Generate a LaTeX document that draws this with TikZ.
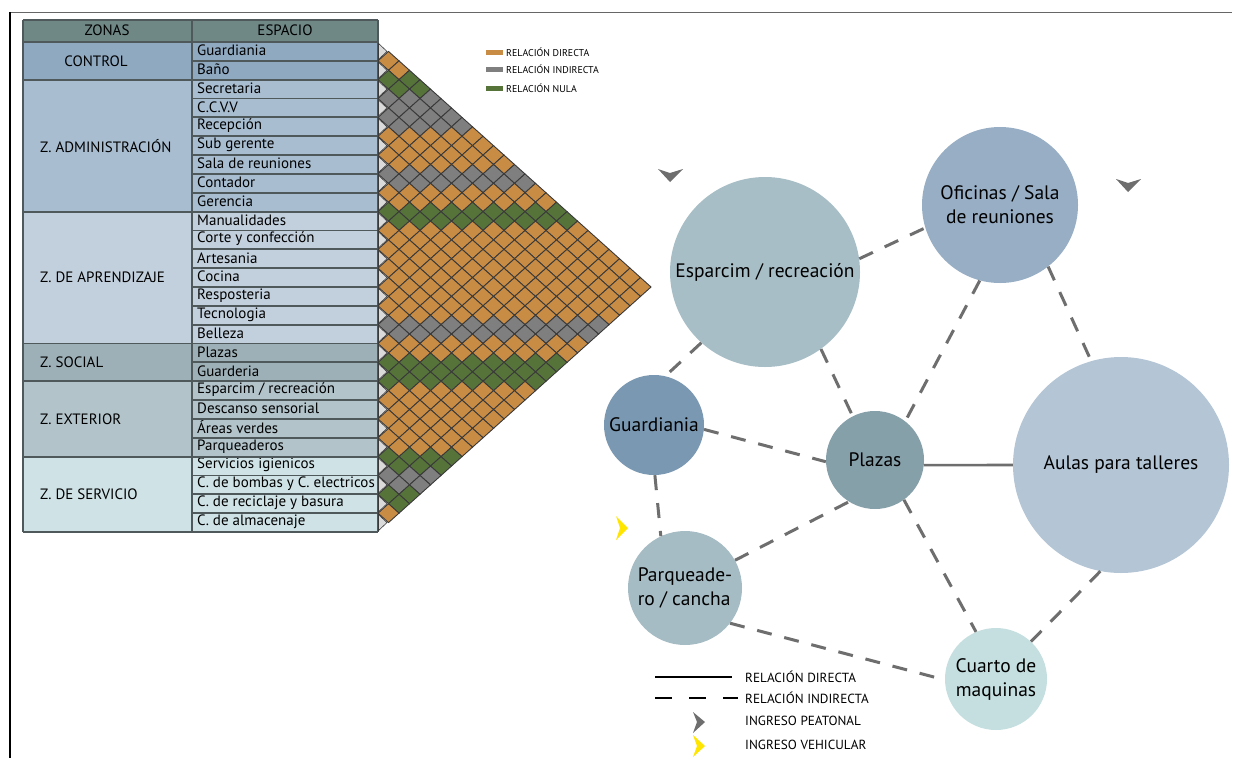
\documentclass[tikz,border=0pt]{standalone}
\usepackage{fontspec}
\setmainfont{PT Sans}
\definecolor{hdr}{HTML}{6F8785}
\definecolor{zctrl}{HTML}{8FA9C1}
\definecolor{zadm}{HTML}{A8BDD0}
\definecolor{zapr}{HTML}{C2CFDC}
\definecolor{zsoc}{HTML}{9EB0B7}
\definecolor{zext}{HTML}{B2C3CA}
\definecolor{zser}{HTML}{CFE2E6}
\definecolor{mO}{HTML}{C98C45}
\definecolor{mY}{HTML}{7F7F7F}
\definecolor{mG}{HTML}{56733A}
\definecolor{tri}{HTML}{DADADA}
\definecolor{cellline}{HTML}{3A3A3A}
\definecolor{tline}{HTML}{4F585B}
\definecolor{conn}{HTML}{6E6E6E}
\definecolor{cEsp}{HTML}{A8BEC6}
\definecolor{cOfi}{HTML}{97AEC5}
\definecolor{cAul}{HTML}{B4C5D6}
\definecolor{cPla}{HTML}{86A0AA}
\definecolor{cGua}{HTML}{7A98B2}
\definecolor{cPar}{HTML}{A6BCC4}
\definecolor{cCua}{HTML}{C5DFE0}
\definecolor{ylw}{HTML}{FFE500}
\newcommand\kO{\colorlet{cellc}{mO}}
\newcommand\kG{\colorlet{cellc}{mG}}
\newcommand\kY{\colorlet{cellc}{mY}}
\newcommand\cellcol[1]{\ifcase#1\relax
\kO\or\kO\or\kO\or\kG\or\kG\or\kY\or\kY\or\kY\or\kY\or\kO\or% 0-9
\kO\or\kO\or\kO\or\kY\or\kY\or\kO\or\kO\or\kG\or\kG\or\kO\or% 10-19
\kO\or\kO\or\kO\or\kO\or\kO\or\kO\or\kO\or\kO\or\kO\or\kY\or% 20-29
\kY\or\kO\or\kO\or\kG\or\kG\or\kG\or\kO\or\kO\or\kO\or\kO\or% 30-39
\kO\or\kO\or\kO\or\kG\or\kG\or\kY\or\kY\or\kG\or\kG\or\kO\else\kO\fi}
\tikzset{
  tabtxt/.style={anchor=west, inner sep=0pt, font=\fontsize{15}{17}\selectfont},
  tabline/.style={draw=tline, line width=1.8pt},
  cellbox/.style={fill=cellc, draw=cellline, line width=0.9pt},
  tribox/.style={fill=tri, draw=cellline, line width=0.6pt},
  bub/.style={circle, inner sep=0pt, align=center, font=\fontsize{19.5}{24}\selectfont},
  rel/.style={draw=conn, line width=3pt, dash pattern=on 15pt off 13pt},
  relsolid/.style={draw=conn, line width=2.6pt},
  legtxt/.style={anchor=west, inner sep=0pt, font=\fontsize{13.2}{15}\selectfont},
  legsmall/.style={anchor=west, inner sep=0pt, font=\fontsize{9.9}{11}\selectfont},
}
\begin{document}
\begin{tikzpicture}[x=1pt,y=-1pt]
\useasboundingbox (0,0) rectangle (1236,758);
\fill[white] (0,0) rectangle (1236,758);
% frame
\draw[draw=black!60, line width=1pt] (10,12) -- (1232,12);
\draw[black, line width=2pt] (10,12) -- (10,758);
% ---------- table ----------
\def\rh{18.846}
\fill[hdr] (23,20) rectangle (378,41);
\node[inner sep=0pt, font=\fontsize{15}{17}\selectfont] (hz) at (107,30.5) {ZONAS};
\node[inner sep=0pt, font=\fontsize{15}{17}\selectfont] (he) at (285,30.5) {ESPACIO};
\foreach \a/\b/\c in {0/2/zctrl,2/9/zadm,9/16/zapr,16/18/zsoc,18/22/zext,22/26/zser}{
  \fill[\c] (23,42+\a*\rh) rectangle (378,42+\b*\rh);
}
\node[tabtxt, anchor=center] (z1) at (96,{42+1*\rh}) {CONTROL};
\node[tabtxt] (z2) at (40,{42+5.5*\rh}) {Z. ADMINISTRACIÓN};
\node[tabtxt] (z3) at (40,{42+12.5*\rh}) {Z. DE APRENDIZAJE};
\node[tabtxt] (z4) at (40,{42+17*\rh}) {Z. SOCIAL};
\node[tabtxt] (z5) at (40,{42+20*\rh}) {Z. EXTERIOR};
\node[tabtxt] (z6) at (40,{42+24*\rh}) {Z. DE SERVICIO};
\foreach \t [count=\i from 0] in {Guardiania, Baño, Secretaria, C.C.V.V, Recepción, Sub gerente, Sala de reuniones, Contador, Gerencia, Manualidades, Corte y confección, Artesania, Cocina, Resposteria, Tecnologia, Belleza, Plazas, Guarderia, {Esparcim / recreación}, Descanso sensorial, Áreas verdes, Parqueaderos, Servicios igienicos, C. de bombas y C. electricos, C. de reciclaje y basura, C. de almacenaje}{
  \node[tabtxt] (e\i) at (197,{42+(\i+0.45)*\rh}) {\t};
}
% table lines
\foreach \i in {0,...,26}{
  \draw[tabline] (192,42+\i*\rh) -- (378,42+\i*\rh);
}
\foreach \i in {0,2,9,16,18,22,26}{
  \draw[tabline] (23,42+\i*\rh) -- (192,42+\i*\rh);
}
\draw[tabline] (23,20) -- (378,20);
\draw[tabline] (23,20) -- (23,532);
\draw[tabline] (192,20) -- (192,532);
\draw[tabline] (378,20) -- (378,532);
% ---------- matrix ----------
\foreach \i in {0,...,24}{
  \pgfmathtruncatemacro\ip{\i+1}
  \foreach \j in {\ip,...,25}{
    \pgfmathtruncatemacro\k{\i+\j}
    \pgfmathsetmacro\cx{378+10.5*(\j-\i)}
    \pgfmathsetmacro\cy{42+9.423*(\k+1)}
    \cellcol{\k}
    \path[cellbox] (\cx-10.5,\cy) -- (\cx,\cy-9.423) -- (\cx+10.5,\cy) -- (\cx,\cy+9.423) -- cycle;
  }
}
\foreach \i in {0,...,25}{
  \pgfmathsetmacro\cy{42+18.846*(\i+0.5)}
  \path[tribox] (378.5,\cy-8) -- (387,\cy) -- (378.5,\cy+8) -- cycle;
}
% top legend
\fill[mO] (486,50) rectangle (503,55);
\fill[mY] (486,67) rectangle (503,72);
\fill[mG] (486,86) rectangle (503,91);
\node[legsmall] (lm1) at (506,52.5) {RELACIÓN DIRECTA};
\node[legsmall] (lm2) at (506,69.5) {RELACIÓN INDIRECTA};
\node[legsmall] (lm3) at (506,88.5) {RELACIÓN NULA};
% ---------- bubble graph ----------
\node[bub, fill=cEsp, minimum size=190pt] (esp) at (765,272) {Esparcim / recreación};
\node[bub, fill=cOfi, minimum size=156pt] (ofi) at (1000,205) {Oficinas / Sala\\de reuniones};
\node[bub, fill=cAul, minimum size=216pt] (aul) at (1121,465) {Aulas para talleres};
\node[bub, fill=cPla, minimum size=98pt] (pla) at (875,460) {Plazas};
\node[bub, fill=cGua, minimum size=100pt] (gua) at (654,425) {Guardiania};
\node[bub, fill=cPar, minimum size=114pt, align=left] (par) at (685,588) {Parqueade-\\ro / cancha};
\node[bub, fill=cCua, minimum size=102pt] (cua) at (996,679) {Cuarto de\\maquinas};
% connectors
\draw[rel] (esp.8) -- (ofi.197);
\draw[rel] (ofi.-52) -- (aul.106);
\draw[rel] (esp.-54) -- (pla.117);
\draw[rel] (ofi.255) -- (pla.52);
\draw[rel] (esp.228) -- (gua.77);
\draw[rel] (gua.-5) -- (pla.182);
\draw[relsolid] (pla.-6) -- (aul.180);
\draw[rel] (gua.-89) -- (par.115);
\draw[rel] (par.29) -- (pla.238);
\draw[rel] (par.-38) -- (cua.181);
\draw[rel] (pla.-54) -- (cua.113);
\draw[rel] (cua.47) -- (aul.259);
% entrance arrows
\fill[conn] (658,169) -- (670,173) -- (683,169) -- (670,182) -- cycle;
\fill[conn] (1116,179) -- (1128,183) -- (1141,179) -- (1128,192) -- cycle;
\fill[ylw] (616,516) -- (628,528) -- (616,540) -- (620,528) -- cycle;
% bottom legend
\coordinate (la1) at (655,677);
\coordinate (lb1) at (732,677);
\coordinate (la2) at (655,698);
\coordinate (lb2) at (738,698);
\draw[black, line width=2.6pt] (la1) -- (lb1);
\draw[black, line width=2.6pt, dash pattern=on 17pt off 17pt] (la2) -- (lb2);
\fill[conn] (693,712) -- (705,722) -- (693,733) -- (697,722) -- cycle;
\fill[ylw] (693,735) -- (705,746) -- (693,757) -- (697,746) -- cycle;
\node[legtxt] (lt1) at (745,677) {RELACIÓN DIRECTA};
\node[legtxt] (lt2) at (745,698) {RELACIÓN INDIRECTA};
\node[legtxt] (lt3) at (745,721) {INGRESO PEATONAL};
\node[legtxt] (lt4) at (745,745) {INGRESO VEHICULAR};
\end{tikzpicture}
\end{document}
